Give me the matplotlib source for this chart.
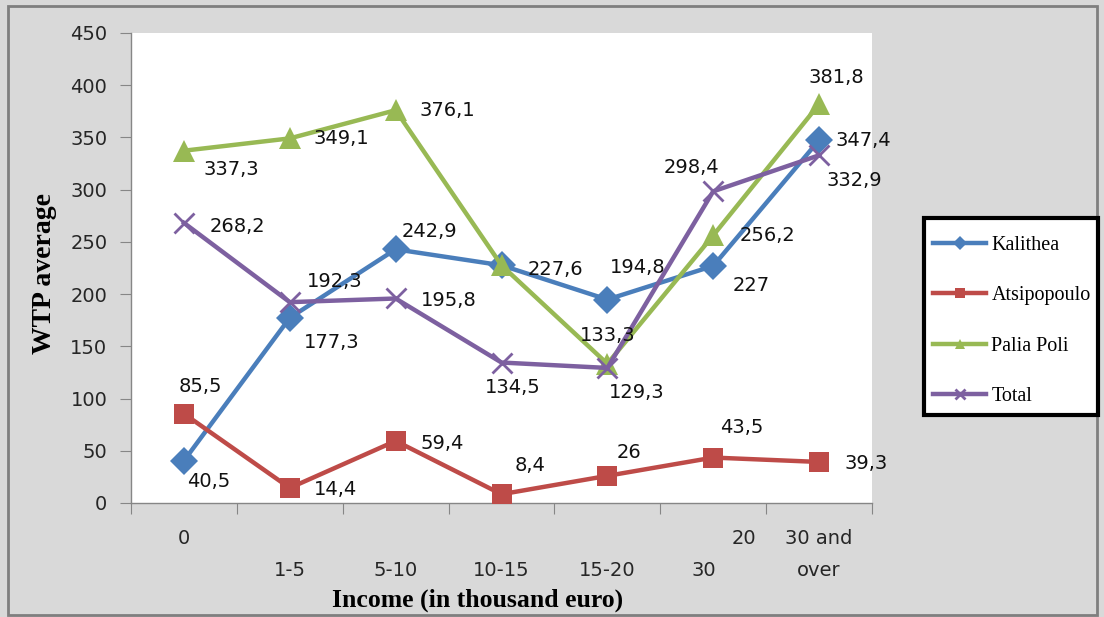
import matplotlib
matplotlib.use("Agg")
import matplotlib.pyplot as plt
from matplotlib.patches import Rectangle

categories = ["0", "1-5", "5-10", "10-15", "15-20", "20-30", "30 and over"]
kalithea = [40.5, 177.3, 242.9, 227.6, 194.8, 227, 347.4]
atsipopoulo = [85.5, 14.4, 59.4, 8.4, 26, 43.5, 39.3]
palia_poli = [337.3, 349.1, 376.1, 227.6, 133.3, 256.2, 381.8]
total = [268.2, 192.3, 195.8, 134.5, 129.3, 298.4, 332.9]

# label offsets in pixels (dx, dy) for each point; None = hidden behind another label
off_kal = [(25, -21), (42, -25), (34, 18), (54, -4), (30, 32), (38, -20), (44, 0)]
off_ats = [(16, 27), (46, -2), (47, -3), (29, 29), (22, 23), (29, 30), (47, -2)]
off_pal = [(47, -19), (52, 0), (52, 0), None, (0, 28), (54, 0), (17, 27)]
off_tot = [(54, -4), (45, 21), (53, -2), (11, -25), (29, -25), (-22, 24), (35, -25)]

NUM_FONT = "DejaVu Sans"
TXT = "#262626"
W, H = 1104, 617

fig = plt.figure(figsize=(11.04, 6.17), dpi=100, facecolor="#d9d9d9")
ax = fig.add_axes([131 / W, 114 / H, 741 / W, 470 / H])
ax.set_facecolor("white")

x = list(range(len(categories)))
series = [
    ("Kalithea", kalithea, "#4a7ebb", "D", 14, off_kal),
    ("Atsipopoulo", atsipopoulo, "#be4b48", "s", 14, off_ats),
    ("Palia Poli", palia_poli, "#98b954", "^", 15.5, off_pal),
    ("Total", total, "#7d60a0", "x", 14, off_tot),
]
for name, vals, col, mk, ms, offs in series:
    ax.plot(x, vals, color=col, lw=3.2, marker=mk, ms=ms, mew=2 if mk == "x" else 0,
            mec=col, mfc=col, label=name, zorder=3)
    for xi, v, o in zip(x, vals, offs):
        if o is None:
            continue
        ax.annotate(f"{v:g}".replace(".", ","), (xi, v), xytext=o,
                    textcoords="offset pixels", ha="center", va="center",
                    fontsize=14, family=NUM_FONT, color="#111111", zorder=4)

ax.set_xlim(-0.5, len(categories) - 0.5)
ax.set_ylim(0, 450)
ax.set_yticks(range(0, 451, 50))
ax.tick_params(axis="y", direction="out", length=8, color="#868686",
               labelsize=14, pad=9, labelcolor=TXT)
for lab in ax.get_yticklabels():
    lab.set_family(NUM_FONT)

# category boundaries carry the tick marks
ax.set_xticks([i - 0.5 for i in range(len(categories) + 1)])
ax.set_xticklabels([])
ax.tick_params(axis="x", direction="out", length=8, color="#868686")

# category names, staggered over two rows
tr = ax.get_xaxis_transform()
row1, row2 = -36 / 470, -68 / 470
for i, cat in enumerate(categories):
    kw = dict(transform=tr, ha="center", va="center", fontsize=14,
              family=NUM_FONT, color=TXT)
    if cat == "20-30":
        lo, hi = cat.split("-")
        ax.text(i + 0.29, row1, lo, **kw)
        ax.text(i - 0.09, row2, hi, **kw)
    elif cat == "30 and over":
        ax.text(i, row1, "30 and", **kw)
        ax.text(i, row2, "over", **kw)
    elif i == 0:
        ax.text(i, row1, cat, **kw)
    else:
        ax.text(i, row2, cat, **kw)

for s in ["top", "right"]:
    ax.spines[s].set_visible(False)
for s in ["left", "bottom"]:
    ax.spines[s].set_color("#868686")
    ax.spines[s].set_linewidth(1)

ax.set_ylabel("WTP average", family="Liberation Serif", fontweight="bold",
              fontsize=20, va="center")
ax.yaxis.set_label_coords(-(131 - 45) / 741, (503 - 274) / 470)
ax.set_xlabel("Income (in thousand euro)", family="Liberation Serif",
              fontweight="bold", fontsize=18.5, va="center")
ax.xaxis.set_label_coords((478 - 131) / 741, -(600 - 503) / 470)

# legend box drawn separately so its size can be fixed
fig.patches.append(Rectangle((924 / W, 1 - 415 / H), 174 / W, 197 / H,
                             transform=fig.transFigure, facecolor="white",
                             edgecolor="black", lw=3, zorder=5))
leg = fig.legend(loc="upper left", bbox_to_anchor=(924 / W, 1 - 227 / H),
                 borderaxespad=0, frameon=False,
                 prop={"family": "Liberation Serif", "size": 14.5},
                 labelspacing=1.55, handlelength=2.65, borderpad=0.45,
                 handletextpad=0.25, markerscale=0.5)
leg.set_zorder(6)
for t in leg.get_texts():
    t.set_color("black")

fig.patches.append(Rectangle((8 / W, 2 / H), 1089 / W, 609 / H,
                             transform=fig.transFigure, fill=False,
                             edgecolor="#7f7f7f", lw=2))

fig.savefig("out.png", dpi=100, facecolor=fig.get_facecolor())
